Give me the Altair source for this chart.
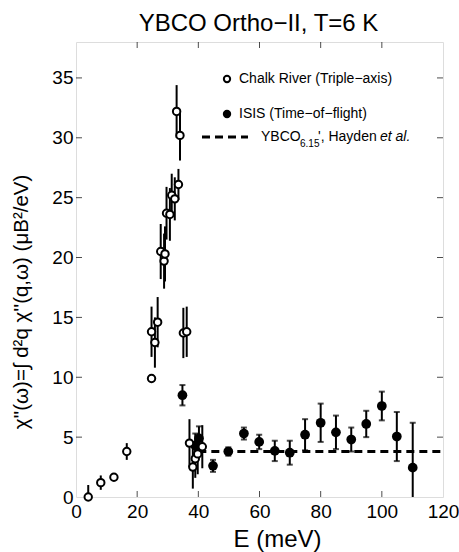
import altair as alt
import pandas as pd

FONT = "Liberation Sans"

# Chalk River (triple-axis), open circles
chalk_E = [4.0, 8.1, 12.4, 16.6, 24.7, 24.7, 25.8, 26.7, 27.7, 28.8, 29.1, 29.6, 30.7,
           31.3, 32.3, 33.5, 32.9, 34.0, 35.1, 36.2, 37.1, 38.2, 39.0, 39.8, 41.3]
chalk_chi = [0.0, 1.2, 1.65, 3.8, 13.8, 9.9, 12.9, 14.6, 20.5, 19.7, 20.3, 23.7, 23.6,
             25.2, 24.9, 26.1, 32.2, 30.2, 13.7, 13.8, 4.5, 2.5, 3.2, 3.6, 4.2]
chalk_err = [1.0, 0.6, 0.3, 0.7, 2.1, 0.3, 2.1, 2.1, 2.3, 2.3, 2.3, 2.2, 2.2,
             1.8, 1.8, 1.3, 2.2, 2.1, 2.1, 2.1, 2.0, 1.8, 1.6, 1.7, 1.8]

# ISIS (time-of-flight), filled circles
isis_E = [34.8, 39.0, 40.2, 44.8, 49.8, 54.9, 59.9, 65.0, 69.9, 74.9, 80.0, 85.0,
          90.0, 94.9, 100.0, 104.9, 110.1]
isis_chi = [8.5, 4.3, 4.9, 2.6, 3.8, 5.3, 4.6, 3.85, 3.7, 5.2, 6.2, 5.4,
            4.8, 6.1, 7.6, 5.05, 2.45]
isis_err = [0.85, 1.0, 1.0, 0.5, 0.35, 0.5, 0.6, 0.85, 1.0, 1.3, 1.6, 1.4,
            1.0, 1.1, 1.2, 2.05, 3.75]

# YBCO6.15 (Hayden et al.) level
hayden_E = [40.0, 120.0]
hayden_chi = [3.8, 3.8]

x_ticks = [0, 20, 40, 60, 80, 100, 120]
y_ticks = [0, 5, 10, 15, 20, 25, 30, 35]

title_text = "YBCO Ortho\u2212II, T=6 K"
x_title = "E (meV)"
y_title = "\u03c7''(\u03c9)=\u222b d\u00b2q \u03c7''(q,\u03c9) (\u03bcB\u00b2/eV)"
legend_labels = ["Chalk River (Triple\u2212axis)", "ISIS (Time\u2212of\u2212flight)"]
hayden_label = ["YBCO", "6.15", "', Hayden", "et al."]

W, H = 367, 455

chalk = pd.DataFrame({"E": chalk_E, "chi": chalk_chi, "err": chalk_err})
chalk["lo"] = chalk["chi"] - chalk["err"]
chalk["hi"] = chalk["chi"] + chalk["err"]
isis = pd.DataFrame({"E": isis_E, "chi": isis_chi, "err": isis_err})
isis["lo"] = isis["chi"] - isis["err"]
isis["hi"] = isis["chi"] + isis["err"]
hayden = pd.DataFrame({"E": hayden_E, "chi": hayden_chi})

xs = alt.Scale(domain=[0, 120], nice=False, zero=False)
ys = alt.Scale(domain=[0, 38], nice=False, zero=False)

xaxis = alt.Axis(values=x_ticks, domain=False, ticks=False, grid=False,
                 labelFont=FONT, labelFontSize=19, labelColor="black", labelPadding=5,
                 title=x_title, titleFont=FONT, titleFontSize=24, titleFontWeight="normal",
                 titleColor="black", titleX=201, titleY=49, titleBaseline="alphabetic",
                 titleAlign="center", labelFlush=False)
yaxis = alt.Axis(values=y_ticks, domain=False, ticks=False, grid=False,
                 labelFont=FONT, labelFontSize=19, labelColor="black", labelPadding=3,
                 title=None, labelFlush=False)

base_x = alt.X("E:Q", scale=xs, axis=xaxis)
base_y = alt.Y("chi:Q", scale=ys, axis=yaxis)

line = alt.Chart(hayden).mark_line(color="black", strokeWidth=3.2, strokeDash=[8, 5]).encode(
    x=base_x, y=base_y)

isis_bar = alt.Chart(isis).mark_rule(color="black", strokeWidth=2, clip=True).encode(
    x="E:Q", y=alt.Y("lo:Q", scale=ys), y2="hi:Q")
isis_cap_lo = alt.Chart(isis).mark_tick(color="black", orient="horizontal", size=6,
                                        thickness=2, clip=True).encode(x="E:Q", y=alt.Y("lo:Q", scale=ys))
isis_cap_hi = alt.Chart(isis).mark_tick(color="black", orient="horizontal", size=6,
                                        thickness=2, clip=True).encode(x="E:Q", y=alt.Y("hi:Q", scale=ys))
isis_pts = alt.Chart(isis).mark_point(shape="circle", filled=True, color="black",
                                      size=95, opacity=1).encode(x="E:Q", y="chi:Q")

chalk_bar = alt.Chart(chalk).mark_rule(color="black", strokeWidth=2, clip=True).encode(
    x="E:Q", y=alt.Y("lo:Q", scale=ys), y2="hi:Q")
chalk_pts = alt.Chart(chalk).mark_point(shape="circle", filled=True, fill="white",
                                        stroke="black", strokeWidth=2, size=55,
                                        opacity=1).encode(x="E:Q", y="chi:Q")

# inward ticks on all four sides
xt = pd.DataFrame({"E": x_ticks[1:-1]})
yt = pd.DataFrame({"chi": y_ticks[1:]})
tick_b = alt.Chart(xt).mark_tick(color="black", orient="vertical", size=6, thickness=1).encode(
    x="E:Q", y=alt.value(H - 3))
tick_t = alt.Chart(xt).mark_tick(color="black", orient="vertical", size=6, thickness=1).encode(
    x="E:Q", y=alt.value(3))
tick_l = alt.Chart(yt).mark_tick(color="black", orient="horizontal", size=6, thickness=1).encode(
    y="chi:Q", x=alt.value(3))
tick_r = alt.Chart(yt).mark_tick(color="black", orient="horizontal", size=6, thickness=1).encode(
    y="chi:Q", x=alt.value(W - 3))

# titles and legend
one = pd.DataFrame({"k": [0]})
title_mark = alt.Chart(one).mark_text(text=title_text, font=FONT, fontSize=24, align="center",
                                      baseline="alphabetic", color="black").encode(
    x=alt.value(W / 2 - 1), y=alt.value(-11))
ytitle_mark = alt.Chart(one).mark_text(text=y_title, font=FONT, fontSize=20.5, align="center",
                                       baseline="middle", angle=270, color="black").encode(
    x=alt.value(-54), y=alt.value(260))
leg_open = alt.Chart(one).mark_point(shape="circle", filled=True, fill="white", stroke="black",
                                     strokeWidth=2, size=40, opacity=1).encode(
    x=alt.value(151), y=alt.value(37))
leg_fill = alt.Chart(one).mark_point(shape="circle", filled=True, color="black", size=70,
                                     opacity=1).encode(x=alt.value(151), y=alt.value(72))
leg_dash = alt.Chart(one).mark_rule(color="black", strokeWidth=3.2, strokeDash=[8, 5]).encode(
    x=alt.value(126), x2=alt.value(172), y=alt.value(95))
leg_t1 = alt.Chart(one).mark_text(text=legend_labels[0], font=FONT, fontSize=14, align="left",
                                  baseline="middle", color="black").encode(
    x=alt.value(163), y=alt.value(37))
leg_t2 = alt.Chart(one).mark_text(text=legend_labels[1], font=FONT, fontSize=14, align="left",
                                  baseline="middle", color="black").encode(
    x=alt.value(163), y=alt.value(72))
leg_t3a = alt.Chart(one).mark_text(text=hayden_label[0], font=FONT, fontSize=14, align="left",
                                   baseline="middle", color="black").encode(
    x=alt.value(185), y=alt.value(95))
leg_t3b = alt.Chart(one).mark_text(text=hayden_label[1], font=FONT, fontSize=10, align="left",
                                   baseline="middle", color="black").encode(
    x=alt.value(224), y=alt.value(102))
leg_t3c = alt.Chart(one).mark_text(text=hayden_label[2], font=FONT, fontSize=14, align="left",
                                   baseline="middle", color="black").encode(
    x=alt.value(242), y=alt.value(95))
leg_t3d = alt.Chart(one).mark_text(text=hayden_label[3], font=FONT, fontSize=14, align="left",
                                   baseline="middle", fontStyle="italic", color="black").encode(
    x=alt.value(304), y=alt.value(95))

chart = alt.layer(
    line, isis_bar, isis_cap_lo, isis_cap_hi, isis_pts, chalk_bar, chalk_pts,
    tick_b, tick_t, tick_l, tick_r, title_mark, ytitle_mark,
    leg_open, leg_fill, leg_dash, leg_t1, leg_t2, leg_t3a, leg_t3b, leg_t3c, leg_t3d,
).properties(
    width=W, height=H,
    autosize=alt.AutoSizeParams(type="none"),
    padding={"left": 76, "top": 42, "right": 16, "bottom": 55},
).configure_view(stroke="black", strokeWidth=1.2).configure(background="white")

chart.save("out.html", embed_options={"renderer": "svg", "actions": False})
